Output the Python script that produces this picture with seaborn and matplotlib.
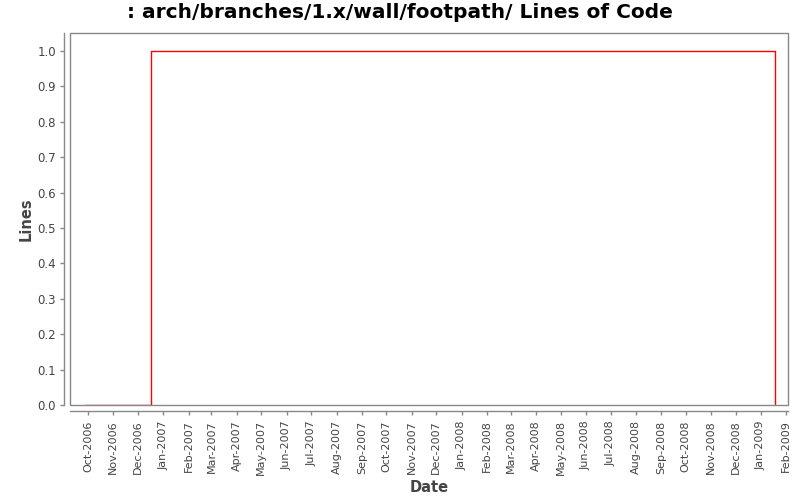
import matplotlib
matplotlib.use("Agg")
import matplotlib.pyplot as plt
from matplotlib.patches import Rectangle
import seaborn as sns
import pandas as pd

dates = ["2006-09-27", "2006-12-17", "2009-01-18"]
lines = [0, 1, 0]
tick_months = pd.date_range("2006-10-01", "2009-02-01", freq="MS")

df = pd.DataFrame({"Date": pd.to_datetime(dates), "Lines": lines})

sns.set_theme(style="white")
plt.rcParams["font.family"] = ["DejaVu Sans"]

fig = plt.figure(figsize=(8, 5), dpi=100)
ax = fig.add_axes([70/800, 1-405/500, (788-70)/800, (405-33)/500])

sns.lineplot(data=df, x="Date", y="Lines", ax=ax, color="#ff0000",
             drawstyle="steps-post", linewidth=1.0)

ax.set_xlim(pd.Timestamp("2006-09-09"), pd.Timestamp("2009-02-03"))
ax.set_ylim(0, 1.051)
ax.set_yticks([i/10 for i in range(11)])
ax.set_yticklabels([f"{i/10:.1f}" for i in range(11)])
ax.set_xticks(tick_months)
ax.set_xticklabels([d.strftime("%b-%Y") for d in tick_months])

gray = "#888888"
for s in ["top", "right"]:
    ax.spines[s].set_visible(False)
for s in ["left", "bottom"]:
    ax.spines[s].set_position(("outward", 4))
    ax.spines[s].set_color(gray)
    ax.spines[s].set_linewidth(1.0)
ax.add_patch(Rectangle((0, 0), 1, 1, transform=ax.transAxes, fill=False,
                       edgecolor=gray, linewidth=1.0, clip_on=False, zorder=5))

ax.tick_params(axis="both", which="major", length=3, width=1, color=gray,
               labelcolor="#444444", pad=3, direction="out")
ax.tick_params(axis="y", labelsize=8.5)
ax.tick_params(axis="x", labelrotation=90, pad=4, labelsize=8)
ax.tick_params(left=True, bottom=True)

ax.set_xlabel("Date", fontsize=10.5, color="#444444", labelpad=3, fontweight="bold")
ax.set_ylabel("Lines", fontsize=10.5, color="#444444", labelpad=3, fontweight="bold")
fig.suptitle(": arch/branches/1.x/wall/footpath/ Lines of Code",
             fontsize=14.5, fontweight="bold", y=0.995, va="top", color="black")

fig.savefig("out.png", dpi=100, facecolor="white")
